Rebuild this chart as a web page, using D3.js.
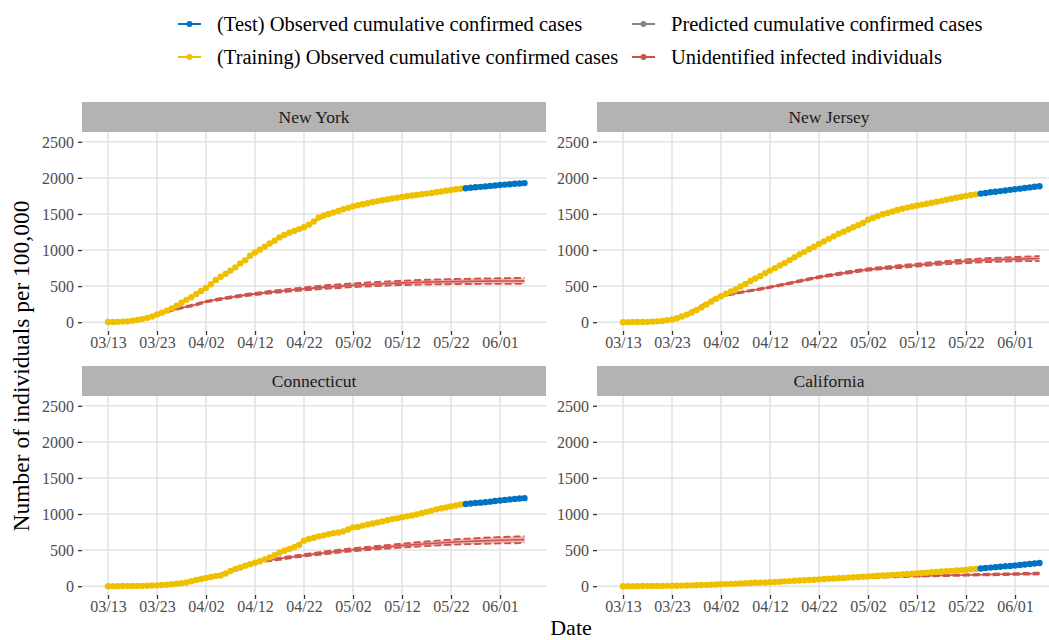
<!DOCTYPE html>
<html><head><meta charset="utf-8">
<script src="https://cdn.jsdelivr.net/npm/d3@7"></script>
<style>body{margin:0;background:#fff} svg{display:block} text{font-family:"Liberation Serif","Times New Roman",serif}</style>
</head><body><svg id="c" width="1049" height="640"></svg>
<script>
// ---------------- data ----------------
const startDate = "2020-03-13";
const trainEndIndex = 72; // 05/24 last training day
const tickDates = ["2020-03-13","2020-03-23","2020-04-02","2020-04-12","2020-04-22","2020-05-02","2020-05-12","2020-05-22","2020-06-01"];
const tickLabels = ["03/13","03/23","04/02","04/12","04/22","05/02","05/12","05/22","06/01"];
const yTicks = [0,500,1000,1500,2000,2500];
const yTickLabels = ["0","500","1000","1500","2000","2500"];
const states = ["New York","New Jersey","Connecticut","California"];

const obsNY = [2,3,5,8,12,20,30,43,60,80,108,132,160,192,230,270,310,345,390,432,475,525,585,630,670,715,760,815,860,920,965,1005,1045,1090,1130,1175,1210,1240,1265,1290,1315,1350,1395,1450,1480,1500,1520,1540,1565,1585,1605,1620,1635,1650,1665,1678,1690,1702,1714,1725,1735,1745,1755,1764,1773,1782,1792,1802,1812,1823,1833,1843,1850,1857,1863,1870,1876,1882,1889,1895,1901,1907,1912,1918,1923,1928];
const obsNJ = [1,1,2,2,3,5,8,12,18,26,38,55,80,105,135,170,205,245,285,325,360,395,425,455,495,530,570,605,640,680,715,750,785,820,860,900,940,975,1010,1045,1085,1120,1155,1190,1225,1255,1285,1315,1345,1375,1420,1445,1470,1495,1515,1535,1555,1572,1588,1603,1618,1630,1643,1656,1669,1682,1696,1710,1724,1738,1750,1762,1772,1782,1791,1800,1808,1817,1825,1834,1842,1851,1860,1868,1877,1885];
const obsCT = [0,1,1,2,2,3,4,5,7,9,12,16,20,28,35,42,52,68,85,100,115,127,140,150,175,210,240,260,285,305,325,345,372,400,430,465,492,515,540,570,630,655,672,690,705,720,735,745,760,785,815,822,840,855,868,882,898,915,930,940,955,968,980,995,1012,1030,1048,1065,1080,1092,1105,1118,1132,1140,1146,1152,1158,1165,1172,1180,1188,1196,1203,1210,1215,1220];
const obsCA = [0,1,1,1,2,2,3,3,4,5,6,7,8,10,12,14,16,18,20,23,26,29,32,35,38,41,44,47,50,53,56,59,63,67,71,75,78,82,86,90,95,99,103,107,111,115,119,123,127,131,136,140,144,148,152,157,161,166,170,174,179,183,188,193,198,203,208,213,218,223,229,235,240,246,252,258,264,270,276,281,287,294,301,308,315,322];

const modelDays = [0,4,8,10,12,14,16,18,20,22,25,28,30,35,40,45,50,55,60,65,70,75,80,85];
const predNY = [2,12,58,105,158,228,308,390,478,570,712,855,955,1165,1330,1480,1595,1675,1735,1785,1830,1868,1900,1930];
const predNJ = [1,3,18,38,80,135,205,285,360,425,530,640,715,900,1085,1255,1410,1530,1615,1685,1750,1800,1845,1888];
const predCT = [0,2,7,12,20,35,52,85,115,140,210,285,325,465,628,720,810,880,955,1030,1105,1155,1195,1230];
const predCA = [0,2,4,6,8,12,16,20,26,32,41,50,56,75,95,115,136,157,179,203,229,258,287,323];

const unidNY   = [2,12,60,105,140,180,215,245,285,310,345,375,392,430,462,490,512,530,545,555,562,567,570,573];
const unidLoNY = [2,12,60,102,135,173,205,233,275,298,332,360,377,412,442,465,487,502,515,522,527,530,531,531];
const unidHiNY = [2,12,60,108,145,187,225,257,295,322,358,390,407,448,482,515,537,558,575,588,597,604,609,615];
const unidNJ   = [1,3,20,42,85,152,226,300,360,385,425,460,485,555,625,680,730,762,792,820,845,862,874,882];
const unidLoNJ = [1,3,20,40,82,148,220,292,354,378,417,450,475,543,612,665,714,744,772,798,820,835,845,847];
const unidHiNJ = [1,3,20,44,88,156,232,308,366,392,433,470,495,567,638,695,746,780,812,842,870,889,903,917];
const unidCT   = [0,2,7,12,20,35,55,85,118,150,205,270,320,380,427,468,505,535,563,588,610,625,637,645];
const unidLoCT = [0,2,7,12,20,34,53,82,114,145,199,262,312,366,412,448,485,512,536,556,575,585,593,598];
const unidHiCT = [0,2,7,12,20,36,57,88,122,155,211,278,328,394,442,488,525,558,590,620,645,665,681,692];
const unidCA   = [0,2,4,6,8,12,16,20,26,32,41,50,56,75,93,107,118,130,140,148,155,162,169,176];
const unidLoCA = [0,2,4,6,8,12,16,20,26,31,40,49,55,73,90,103,113,124,133,140,146,152,158,164];
const unidHiCA = [0,2,4,6,8,12,16,20,26,33,42,51,57,77,96,111,123,136,147,156,164,172,180,188];

const legendLabels = ["(Test) Observed cumulative confirmed cases","Predicted cumulative confirmed cases","(Training) Observed cumulative confirmed cases","Unidentified infected individuals"];
const colors = {test:"#0073C2", train:"#EFC000", pred:"#868686", unid:"#CD534C"};

const seriesByState = [
  {obs:obsNY, pred:predNY, mid:unidNY, lo:unidLoNY, hi:unidHiNY},
  {obs:obsNJ, pred:predNJ, mid:unidNJ, lo:unidLoNJ, hi:unidHiNJ},
  {obs:obsCT, pred:predCT, mid:unidCT, lo:unidLoCT, hi:unidHiCT},
  {obs:obsCA, pred:predCA, mid:unidCA, lo:unidLoCA, hi:unidHiCA}
];

// ---------------- drawing ----------------
const svg = d3.select("#c");
const parse = d3.timeParse("%Y-%m-%d");
const d0 = parse(startDate);
const dayDate = i => d3.timeDay.offset(d0, i);

const panels = [
  {x0:82, x1:546, top:102},
  {x0:597, x1:1061, top:102},
  {x0:82, x1:546, top:366},
  {x0:597, x1:1061, top:366}
];
const stripH = 30, plotH = 199;

panels.forEach((p, k) => {
  const s = seriesByState[k];
  const py0 = p.top + stripH, py1 = py0 + plotH;
  const x = d3.scaleTime().domain([parse(tickDates[0]), parse(tickDates[8])]).range([p.x0 + 26, p.x0 + 418]);
  const y = d3.scaleLinear().domain([0, 2500]).range([py0 + 190.2, py0 + 9.8]);
  const g = svg.append("g");

  // strip
  g.append("rect").attr("x", p.x0).attr("y", p.top).attr("width", p.x1 - p.x0).attr("height", stripH).attr("fill", "#B3B3B3");
  g.append("text").attr("x", p.x0 + 232).attr("y", p.top + stripH / 2 + 6)
    .attr("text-anchor", "middle").attr("font-size", 17.5).attr("fill", "#1A1A1A").text(states[k]);

  // grid
  const grid = g.append("g");
  yTicks.forEach(v => grid.append("line").attr("x1", p.x0).attr("x2", p.x1).attr("y1", y(v)).attr("y2", y(v))
    .attr("stroke", "#E3E3E3").attr("stroke-width", 1.5));
  tickDates.forEach(t => grid.append("line").attr("x1", x(parse(t))).attr("x2", x(parse(t))).attr("y1", py0).attr("y2", py1)
    .attr("stroke", "#E3E3E3").attr("stroke-width", 1.5));

  // axes
  const xa = d3.axisBottom(x).tickValues(tickDates.map(parse)).tickFormat((d, i) => tickLabels[i]).tickSize(4).tickPadding(3);
  const xg = g.append("g").attr("transform", `translate(0,${py1})`).call(xa);
  const ya = d3.axisLeft(y).tickValues(yTicks).tickFormat((d, i) => yTickLabels[i]).tickSize(4).tickPadding(4);
  const yg = g.append("g").attr("transform", `translate(${p.x0},0)`).call(ya);
  [xg, yg].forEach(a => {
    a.select(".domain").remove();
    a.selectAll(".tick line").attr("stroke", "#333333").attr("stroke-width", 1.3);
    a.selectAll(".tick text").attr("fill", "#4D4D4D").attr("font-size", 16).attr("font-family", "Liberation Serif, serif");
  });
  xg.selectAll(".tick text").attr("dy", "0.62em");
  yg.selectAll(".tick text").attr("dy", "0.34em");

  // clip
  const cid = "clip" + k;
  svg.append("clipPath").attr("id", cid).append("rect").attr("x", p.x0).attr("y", py0).attr("width", p.x1 - p.x0).attr("height", plotH);
  const pg = g.append("g").attr("clip-path", `url(#${cid})`);

  const md = modelDays.map(dayDate);
  // ribbon
  const area = d3.area().x((d, i) => x(md[i])).y0((d, i) => y(s.lo[i])).y1((d, i) => y(s.hi[i])).curve(d3.curveMonotoneX);
  pg.append("path").datum(s.mid).attr("d", area).attr("fill", colors.unid).attr("fill-opacity", 0.4);
  const lineOf = arr => d3.line().x((d, i) => x(md[i])).y(d => y(d)).curve(d3.curveMonotoneX)(arr);
  pg.append("path").attr("d", lineOf(s.lo)).attr("fill", "none").attr("stroke", colors.unid).attr("stroke-width", 1.9).attr("stroke-dasharray", "7,3");
  pg.append("path").attr("d", lineOf(s.hi)).attr("fill", "none").attr("stroke", colors.unid).attr("stroke-width", 1.9).attr("stroke-dasharray", "7,3");
  pg.append("path").attr("d", lineOf(s.mid)).attr("fill", "none").attr("stroke", colors.unid).attr("stroke-width", 1.6);
  // predicted
  pg.append("path").attr("d", lineOf(s.pred)).attr("fill", "none").attr("stroke", colors.pred).attr("stroke-width", 1.3);

  // observed
  const obsLine = d3.line().x((d, i) => x(dayDate(i))).y(d => y(d));
  const train = s.obs.slice(0, trainEndIndex + 1);
  const test = s.obs.map((v, i) => ({v, i})).filter(d => d.i > trainEndIndex);
  pg.append("path").attr("d", obsLine(train)).attr("fill", "none").attr("stroke", colors.train).attr("stroke-width", 1.4);
  pg.append("path").attr("d", d3.line().x(d => x(dayDate(d.i))).y(d => y(d.v))(test)).attr("fill", "none").attr("stroke", colors.test).attr("stroke-width", 1.4);
  pg.selectAll(".tr").data(train).enter().append("circle").attr("cx", (d, i) => x(dayDate(i))).attr("cy", d => y(d)).attr("r", 3.2).attr("fill", colors.train);
  pg.selectAll(".te").data(test).enter().append("circle").attr("cx", d => x(dayDate(d.i))).attr("cy", d => y(d.v)).attr("r", 3.2).attr("fill", colors.test);
});

// axis titles
svg.append("text").attr("transform", "translate(29,366) rotate(-90)").attr("text-anchor", "middle").attr("font-size", 23.5).attr("fill", "#000").text("Number of individuals per 100,000");
svg.append("text").attr("x", 571).attr("y", 635).attr("text-anchor", "middle").attr("font-size", 22).attr("fill", "#000").text("Date");

// legend
const legendItems = [
  {x:178, y:24, c:colors.test, t:legendLabels[0]},
  {x:632, y:24, c:colors.pred, t:legendLabels[1]},
  {x:178, y:57, c:colors.train, t:legendLabels[2]},
  {x:632, y:57, c:colors.unid, t:legendLabels[3]}
];
const lg = svg.append("g");
legendItems.forEach(it => {
  lg.append("line").attr("x1", it.x).attr("x2", it.x + 23).attr("y1", it.y).attr("y2", it.y).attr("stroke", it.c).attr("stroke-width", 2);
  lg.append("circle").attr("cx", it.x + 11.5).attr("cy", it.y).attr("r", 3).attr("fill", it.c);
  lg.append("text").attr("x", it.x + 39).attr("y", it.y + 7).attr("font-size", 20.5).attr("fill", "#000").text(it.t);
});
</script></body></html>
